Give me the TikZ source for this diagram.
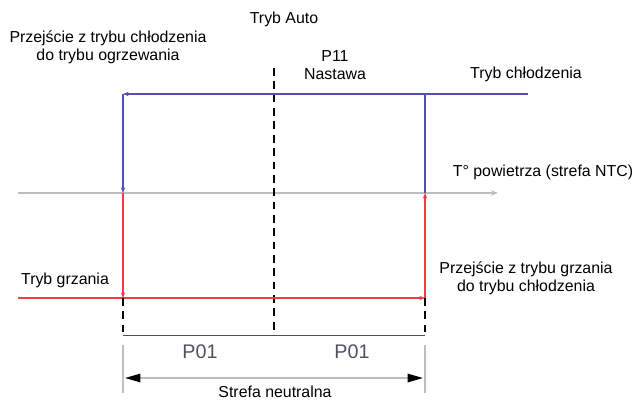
\documentclass[tikz,border=0pt]{standalone}
\usepackage{fontspec}
\setmainfont{Liberation Sans}
\usetikzlibrary{arrows.meta}
\definecolor{chlodz}{RGB}{80,80,180}
\definecolor{grzan}{RGB}{240,60,70}
\definecolor{osgray}{RGB}{190,190,190}
\definecolor{wymiar}{RGB}{80,80,80}
\definecolor{ptext}{RGB}{80,80,100}
\tikzset{
    chlodzenie/.style={draw=chlodz, line width=1.3pt},
    grzanie/.style={draw=grzan, line width=1.1pt},
    grot/.style={-{Stealth[length=4pt,width=3pt]}},
    przerywana/.style={draw=black, line width=0.8pt, dash pattern=on 5.5pt off 4pt},
    opis/.style={font=\fontsize{11.3}{13}\selectfont, align=center, inner sep=0pt},
}
\begin{document}
\begin{tikzpicture}[x=0.025cm, y=-0.025cm]
    \useasboundingbox (0,0) rectangle (635,400);

    % punkty charakterystyczne histerezy
    \coordinate (gL) at (123, 94);
    \coordinate (gP) at (425, 94);
    \coordinate (gK) at (528, 94);
    \coordinate (sL) at (123, 193);
    \coordinate (sP) at (425, 193);
    \coordinate (dS) at (18, 298);
    \coordinate (dL) at (123, 298);
    \coordinate (dP) at (425, 298);

    % os temperatury
    \coordinate (osA) at (18, 193);
    \coordinate (osB) at (498, 193);
    \draw[osgray, line width=1.4pt, -{Stealth[length=5pt,width=4pt]}] (osA) -- (osB);

    % linia nastawy P11
    \coordinate (nG) at (274, 68);
    \coordinate (nD) at (274, 335);
    \draw[przerywana] (nG) -- (nD);

    % tryb chlodzenia
    \draw[chlodzenie] (gK) -- (gP);
    \draw[chlodzenie, grot] (gP) -- (gL);
    \draw[chlodzenie, grot] (gL) -- (sL);
    \draw[chlodzenie] (gP) -- (sP);

    % tryb grzania
    \draw[grzanie, grot] (sL) -- (dL);
    \draw[grzanie, grot] (dS) -- (dP);
    \draw[grzanie, grot] (dP) -- (sP);

    % wymiary P01
    \coordinate (wL) at (123, 335);
    \coordinate (wP) at (425, 335);
    \draw[przerywana] (dL) -- (wL);
    \draw[przerywana] (dP) -- (wP);
    \draw[wymiar, line width=0.7pt] (wL) -- (wP);

    % strefa neutralna
    \coordinate (bLg) at (123, 345);
    \coordinate (bLd) at (123, 393);
    \coordinate (bPg) at (425, 345);
    \coordinate (bPd) at (425, 393);
    \draw[osgray, line width=1.2pt] (bLg) -- (bLd);
    \draw[osgray, line width=1.2pt] (bPg) -- (bPd);
    \coordinate (sfL) at (125, 378);
    \coordinate (sfP) at (423, 378);
    \draw[osgray, line width=1.2pt, {Triangle[length=11pt,width=6pt,color=black]}-{Triangle[length=11pt,width=6pt,color=black]}] (sfL) -- (sfP);

    % opisy
    \node[opis] (auto) at (284, 19) {Tryb Auto};
    \node[opis] (przejscieCG) at (108, 47) {Przejście z trybu chłodzenia\\do trybu ogrzewania};
    \node[opis] (nastawa) at (335, 65) {P11\\Nastawa};
    \node[opis] (chlodz) at (526, 74) {Tryb chłodzenia};
    \node[opis] (temp) at (543, 172) {T° powietrza (strefa NTC)};
    \node[opis] (grzan) at (65, 280) {Tryb grzania};
    \node[opis] (przejscieGC) at (526, 278) {Przejście z trybu grzania\\do trybu chłodzenia};
    \node[font=\fontsize{14}{16}\selectfont, text=ptext, inner sep=0pt] (p01L) at (200, 352) {P01};
    \node[font=\fontsize{14}{16}\selectfont, text=ptext, inner sep=0pt] (p01P) at (352, 352) {P01};
    \node[opis] (strefa) at (275, 392) {Strefa neutralna};
\end{tikzpicture}
\end{document}
